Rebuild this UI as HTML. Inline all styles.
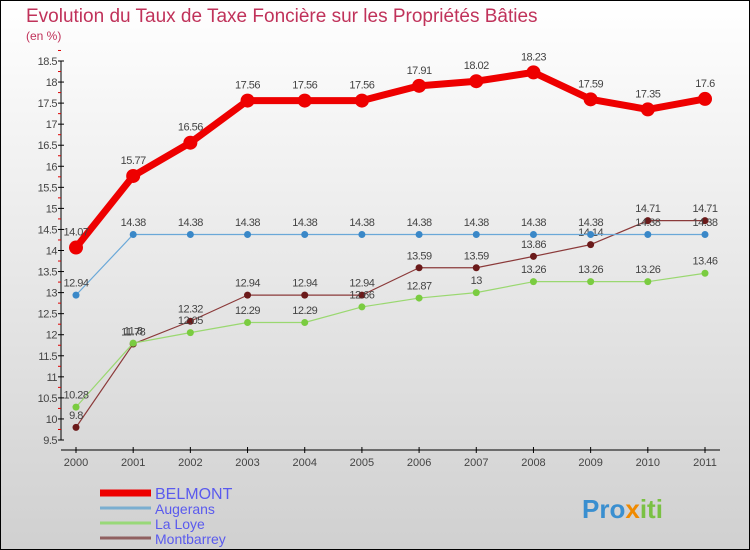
<!DOCTYPE html>
<html><head><meta charset="utf-8">
<style>
body{margin:0;}
#wrap{width:750px;height:550px;position:relative;overflow:hidden;font-family:"Liberation Sans",sans-serif;}
svg text{font-family:"Liberation Sans",sans-serif;}
</style></head>
<body>
<div id="wrap">
<svg id="svg" width="750" height="550" xmlns="http://www.w3.org/2000/svg">
<defs>
<linearGradient id="bg" x1="0" y1="0" x2="0" y2="1">
<stop offset="0" stop-color="#ffffff"/><stop offset="1" stop-color="#d0d0d0"/>
</linearGradient>
</defs>
<rect x="0.5" y="0.5" width="749" height="549" fill="url(#bg)" stroke="#000"/>
<text x="26" y="22" font-size="19" fill="#c0325a">Evolution du Taux de Taxe Foncière sur les Propriétés Bâties</text>
<text x="26" y="40" font-size="12" fill="#c0325a">(en %)</text>
<g id="axes"></g>
<g id="series"></g>
<g id="legend"></g>
<text x="582" y="518" font-size="26" font-weight="bold" fill="#3a8fd0">Pro<tspan fill="#f08a00">x</tspan><tspan fill="#7ac143">iti</tspan></text>
</svg>
</div>
<script>
const years = ["2000","2001","2002","2003","2004","2005","2006","2007","2008","2009","2010","2011"];
const yTicks = [9.5,10,10.5,11,11.5,12,12.5,13,13.5,14,14.5,15,15.5,16,16.5,17,17.5,18,18.5];
const belmont = [14.07,15.77,16.56,17.56,17.56,17.56,17.91,18.02,18.23,17.59,17.35,17.6];
const augerans = [12.94,14.38,14.38,14.38,14.38,14.38,14.38,14.38,14.38,14.38,14.38,14.38];
const laLoye = [10.28,11.8,12.05,12.29,12.29,12.66,12.87,13,13.26,13.26,13.26,13.46];
const montbarrey = [9.8,11.78,12.32,12.94,12.94,12.94,13.59,13.59,13.86,14.14,14.71,14.71];

const NS="http://www.w3.org/2000/svg";
const X=i=>76+i*(705-76)/11;
const Y=v=>440-(v-9.5)*(440-61)/9;
function mk(tag,attrs,parent){const e=document.createElementNS(NS,tag);for(const k in attrs)e.setAttribute(k,attrs[k]);parent.appendChild(e);return e;}
const axes=document.getElementById('axes');
let yl=mk('line',{x1:61,y1:61,x2:61,y2:440,stroke:'#000'},axes);


yTicks.forEach(t=>{
  const y=Y(t);
  mk('line',{x1:58,y1:y,x2:64,y2:y,stroke:'#000'},axes);
  const m=mk('line',{x1:58,y1:Y(t+0.25),x2:61,y2:Y(t+0.25),stroke:'#d00'},axes);
  const tx=mk('text',{x:57,y:y+4,'font-size':11,fill:'#444','text-anchor':'end','letter-spacing':'-0.5'},axes);
  tx.textContent=String(t);
  
  
});
let xl=mk('line',{x1:61,y1:450,x2:720,y2:450,stroke:'#000'},axes);


years.forEach((yr,i)=>{
  mk('line',{x1:X(i),y1:447,x2:X(i),y2:453,stroke:'#000'},axes);
  const tx=mk('text',{x:X(i),y:466,'font-size':11,fill:'#444','text-anchor':'middle'},axes);
  tx.textContent=yr;
  
  
});
const series=document.getElementById('series');
const defs=[
 {name:'montbarrey',data:montbarrey,color:'#8b3a3a',dot:'#6b1a1a',w:1.2,r:3.5},
 {name:'la-loye',data:laLoye,color:'#9ad870',dot:'#7acc40',w:1.2,r:3.5},
 {name:'augerans',data:augerans,color:'#6aa8d8',dot:'#3a88c8',w:1.2,r:3.5},
 {name:'belmont',data:belmont,color:'#ee0000',dot:'#ee0000',w:7,r:7}
];
defs.forEach(s=>{
  const g=mk('g',{},series);
  
  
  const pl=mk('polyline',{points:s.data.map((v,i)=>X(i)+','+Y(v)).join(' '),fill:'none',stroke:s.color,'stroke-width':s.w,'stroke-linejoin':'round'},g);
  
  
  s.data.forEach((v,i)=>{
    const c=mk('circle',{cx:X(i),cy:Y(v),r:s.r,fill:s.dot},g);
    
    
    const t=mk('text',{x:X(i),y:Y(v)-(s.r+5),'font-size':11,fill:'#444','text-anchor':'middle','letter-spacing':'-0.5'},g);
    t.textContent=String(v);
    
    
  });
});
const legend=document.getElementById('legend');
const leg=[['BELMONT','#ee0000',7,16],['Augerans','#7aaed0',3,14],['La Loye','#98d878',3,14],['Montbarrey','#906060',3,14]];
leg.forEach((l,i)=>{
  const y=493+i*15;
  const ln=mk('line',{x1:100,y1:y,x2:151,y2:y,stroke:l[1],'stroke-width':l[2]},legend);
  
  
  const t=mk('text',{x:155,y:y+6,'font-size':l[3],fill:'#5a5aee'},legend);
  t.textContent=l[0];
  
  
});
</script>
</body></html>
